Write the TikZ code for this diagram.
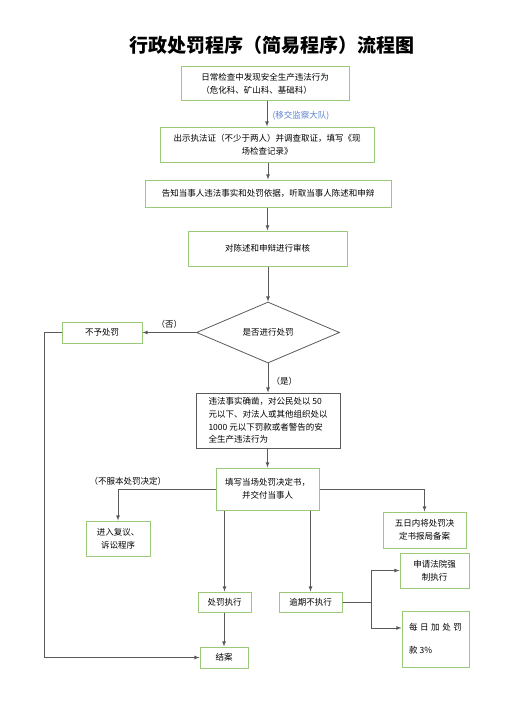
\documentclass[tikz,border=0pt]{standalone}
\usepackage{fontspec}
\setmainfont{Noto Sans CJK SC}
\usetikzlibrary{shapes.geometric}
\definecolor{boxgreen}{HTML}{9BC97A}
\definecolor{linegray}{HTML}{5A5A5A}
\definecolor{noteblue}{HTML}{5A7FD0}
\begin{document}
\begin{tikzpicture}[x=1pt,y=-1pt,>=latex,
		gbox/.style={draw=boxgreen,line width=1pt,inner sep=2pt,align=center,font=\fontsize{8.5}{13}\selectfont},
		kbox/.style={draw=linegray,line width=0.8pt,inner sep=2pt,align=left,font=\fontsize{8.5}{12.7}\selectfont},
		link/.style={draw=linegray,line width=0.8pt},
		lab/.style={font=\fontsize{8.5}{10}\selectfont}]
			\useasboundingbox (0,0) rectangle (527,717);
			\node[font=\fontsize{19}{22}\selectfont\bfseries] (title) at (272,45) {行政处罚程序（简易程序）流程图};
			\node[gbox,minimum width=168pt,minimum height=33pt,align=left] (find) at (265,83.5) {日常检查中发现安全生产违法行为\\（危化科、矿山科、基础科）};
			\node[gbox,minimum width=214pt,minimum height=35pt] (check) at (267,144.5) {出示执法证（不少于两人）并调查取证，填写《现\\场检查记录》};
			\node[gbox,minimum width=246pt,minimum height=27pt] (tell) at (268,193.5) {告知当事人违法事实和处罚依据，听取当事人陈述和申辩};
			\node[gbox,minimum width=159pt,minimum height=35pt] (review) at (267.5,248.5) {对陈述和申辩进行审核};
			\node[draw=linegray,line width=0.8pt,diamond,minimum width=143pt,minimum height=61pt,inner sep=0pt,font=\fontsize{8.5}{10}\selectfont] (punish) at (268,332.5) {是否进行处罚};
			\node[gbox,minimum width=80pt,minimum height=21pt] (nopun) at (102,332.5) {不予处罚};
			\node[kbox,minimum width=144pt,minimum height=55pt] (fact) at (268,420.5) {违法事实确凿，对公民处以 50\\元以下、对法人或其他组织处以\\1000 元以下罚款或者警告的安\\全生产违法行为};
			\node[gbox,minimum width=103pt,minimum height=42pt] (decide) at (267.5,489) {填写当场处罚决定书，\\并交付当事人};
			\node[gbox,minimum width=64pt,minimum height=35pt] (appeal) at (118,538.5) {进入复议、\\诉讼程序};
			\node[gbox,minimum width=83pt,minimum height=36pt] (record) at (424.5,530) {五日内将处罚决\\定书报局备案};
			\node[gbox,minimum width=53pt,minimum height=20pt] (exec) at (224.5,602) {处罚执行};
			\node[gbox,minimum width=63pt,minimum height=20pt] (overdue) at (310.5,602) {逾期不执行};
			\node[gbox,minimum width=48pt,minimum height=21pt] (close) at (224,657.5) {结案};
			\node[gbox,minimum width=69pt,minimum height=35pt] (court) at (434.5,570.5) {申请法院强\\制执行};
			\node[gbox,minimum width=67pt,minimum height=56pt,align=left,font=\fontsize{8.5}{23}\selectfont] (fine) at (435.5,639) {{\addfontfeature{LetterSpace=30}每日加处罚}\\{\addfontfeature{LetterSpace=30}款} 3\%};
			\coordinate (fork) at (371,602);
			\foreach \a/\b in {find/check,check/tell,tell/review,review/punish,fact/decide,exec/close}
				\draw[link,->] (\a.south -| \b.north) -- (\b.north);
			\node[lab,text=noteblue,right] at (269,116) {(移交监察大队)};
			\draw[link,->] (punish.west) -- node[lab,above] {（否）} (nopun.east);
			\draw[link,->] (punish.south) -- node[lab,right,pos=0.6] {（是）} (fact.north);
			\draw[link,->] (decide.west) -| node[lab,above,pos=0.45] {（不服本处罚决定）} (appeal.north);
			\draw[link,->] (decide.east) -| (record.north);
			\draw[link,->] (decide.south -| exec.north) -- (exec.north);
			\draw[link,->] (decide.south -| overdue.north) -- (overdue.north);
			\draw[link,->] (nopun.west) -- ++(-17,0) |- (close.west);
			\draw[link] (overdue.east) -- (fork);
			\draw[link,->] (fork) |- (court.west);
			\draw[link,->] (fork) |- (fine.162);
		\end{tikzpicture}
\end{document}
